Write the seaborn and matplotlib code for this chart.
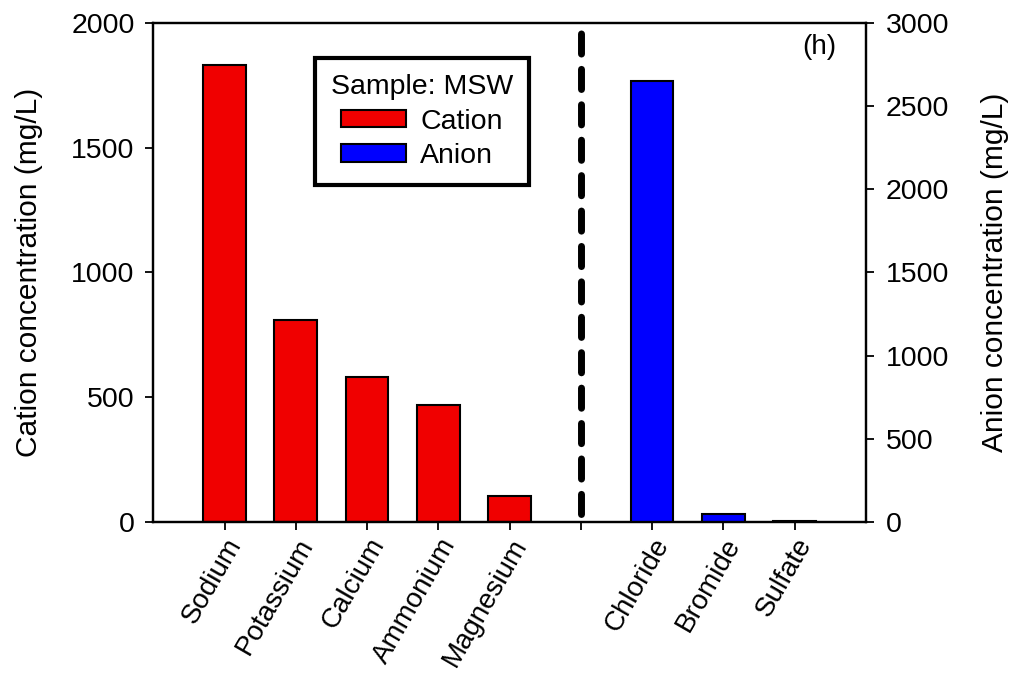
import matplotlib
matplotlib.use("Agg")
import matplotlib.pyplot as plt
from matplotlib.patches import Patch
import seaborn as sns
import pandas as pd

# ---- data ----
cations = ["Sodium", "Potassium", "Calcium", "Ammonium", "Magnesium"]
cation_values = [1830, 808, 580, 470, 105]
anions = ["Chloride", "Bromide", "Sulfate"]
anion_values = [2650, 48, 5]
gap_label = [""]
left_ticks = [0, 500, 1000, 1500, 2000]
right_ticks = [0, 500, 1000, 1500, 2000, 2500, 3000]

order = cations + gap_label + anions

sns.set_style("ticks")
plt.rcParams["font.family"] = ["Liberation Sans", "DejaVu Sans"]
plt.rcParams["text.color"] = "black"
plt.rcParams["axes.labelcolor"] = "black"
plt.rcParams["xtick.color"] = "black"
plt.rcParams["ytick.color"] = "black"

fig = plt.figure(figsize=(10.15, 6.76), dpi=100)
ax = fig.add_axes([0.151, 0.228, 0.702, 0.738])

cat_df = pd.DataFrame({"ion": cations, "conc": cation_values})
an_df = pd.DataFrame({"ion": anions, "conc": anion_values})

sns.barplot(data=cat_df, x="ion", y="conc", order=order, color="#f00000",
            saturation=1, width=0.6, edgecolor="black", linewidth=1.5, ax=ax)
ax2 = ax.twinx()
sns.barplot(data=an_df, x="ion", y="conc", order=order, color="#0000ff",
            saturation=1, width=0.6, edgecolor="black", linewidth=1.5, ax=ax2)

ax.set_xlim(-1, 9)
ax2.set_xlim(-1, 9)
ax.set_ylim(0, 2000)
ax2.set_ylim(0, 3000)
ax.set_yticks(left_ticks)
ax2.set_yticks(right_ticks)

ax.set_xticks(range(len(order)))
ax.set_xticklabels(order, rotation=60, ha="right", va="top",
                   rotation_mode="anchor", fontsize=20)
ax.set_xlabel("")
ax2.set_xlabel("")
ax.set_ylabel("Cation concentration (mg/L)", fontsize=21.5, labelpad=20)
ax2.set_ylabel("Anion concentration (mg/L)", fontsize=21.5, labelpad=23)

for a in (ax, ax2):
    for s in a.spines.values():
        s.set_visible(True)
        s.set_linewidth(1.6)
        s.set_color("black")
ax.tick_params(axis="both", direction="out", length=5.5, width=1.3,
               labelsize=20.5, pad=8, colors="black")
ax.tick_params(axis="x", pad=3, labelsize=20)
ax2.tick_params(axis="y", direction="out", length=5.5, width=1.3,
                labelsize=20.5, pad=9, colors="black")

# dashed separator
ax.axvline(5, ymin=0.015, ymax=0.99, color="black", linewidth=5,
           linestyle=(0, (2.9, 2.2)), dash_capstyle="round")

ax2.text(0.935, 0.952, "(h)", transform=ax.transAxes, fontsize=20,
         ha="center", va="center")

handles = [Patch(facecolor="#f00000", edgecolor="black", linewidth=1.5, label="Cation"),
           Patch(facecolor="#0000ff", edgecolor="black", linewidth=1.5, label="Anion")]
leg = ax2.legend(handles=handles, title="Sample: MSW", loc="upper left",
                 bbox_to_anchor=(0.227, 0.929), fontsize=20.5, title_fontsize=20.5,
                 frameon=True, fancybox=False, framealpha=1, edgecolor="black",
                 handlelength=2.3, handleheight=0.55, borderpad=0.55,
                 labelspacing=0.3, handletextpad=0.5, borderaxespad=0)
leg.get_frame().set_linewidth(3)

fig.savefig("out.png", dpi=100)
